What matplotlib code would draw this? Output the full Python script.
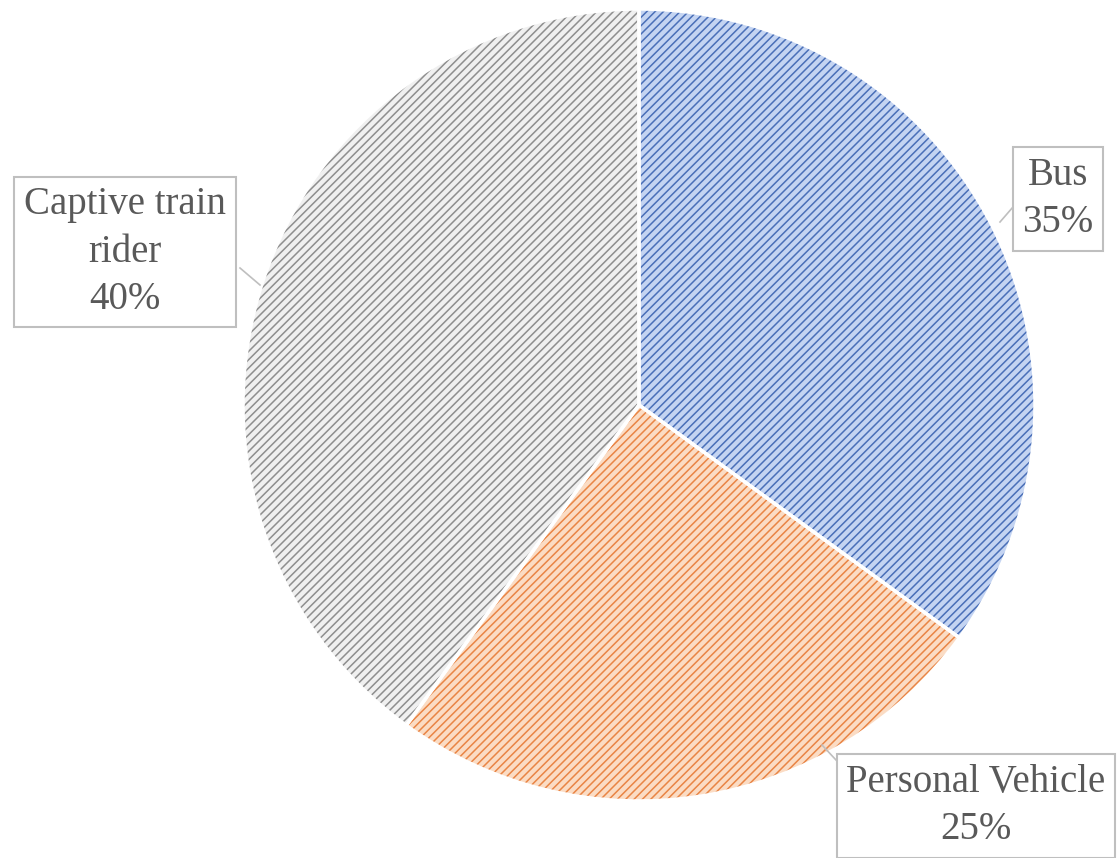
import matplotlib
matplotlib.use("Agg")
import matplotlib.pyplot as plt

categories = ["Bus", "Personal Vehicle", "Captive train rider"]
values = [35, 25, 40]
label_texts = ["Bus\n35%", "Personal Vehicle\n25%", "Captive train\nrider\n40%"]
face_colors = ["#c4d4f2", "#fbdcc4", "#f0f0f0"]
hatch_colors = ["#4a6fb8", "#e98545", "#8e8e8e"]

plt.rcParams['hatch.linewidth'] = 1.1

W, H = 1119, 858
fig = plt.figure(figsize=(W / 100, H / 100), dpi=100)
ax = fig.add_axes([0, 0, 1, 1])
ax.set_xlim(0, W)
ax.set_ylim(0, H)
ax.set_aspect('equal')
ax.axis('off')

center = (639, H - 405)
radius = 396

# hatched fill layer
wedges, _ = ax.pie(values, startangle=90, counterclock=False, center=center,
                   radius=radius, colors=face_colors, frame=True)
for w, hc in zip(wedges, hatch_colors):
    w.set_hatch('/' * 4)
    w.set_edgecolor(hc)
    w.set_linewidth(0)

# white separators
ax.pie(values, startangle=90, counterclock=False, center=center,
       radius=radius, colors=['none'] * 3, frame=True,
       wedgeprops=dict(edgecolor='white', linewidth=2.5, fill=False))
ax.set_xlim(0, W)
ax.set_ylim(0, H)
ax.axis('off')

label_pos = [(1058, H - 199), (976, H - 806), (125, H - 252)]
leaders = [((1000, H - 222), (1013, H - 207)),
           ((822, H - 745), (836, H - 760)),
           ((240, H - 268), (260, H - 285))]

for (x, y), t, ((x0, y0), (x1, y1)) in zip(label_pos, label_texts, leaders):
    ax.plot([x0, x1], [y0, y1], color='#bfbfbf', lw=1.2, zorder=3)
    ax.text(x, y, t, ha='center', va='center', family='Liberation Serif',
            fontsize=28, color='#595959', linespacing=1.36, zorder=5,
            bbox=dict(boxstyle='square,pad=0.25', facecolor='white',
                      edgecolor='#bfbfbf', linewidth=1.5))

fig.savefig('out.png', dpi=100)
